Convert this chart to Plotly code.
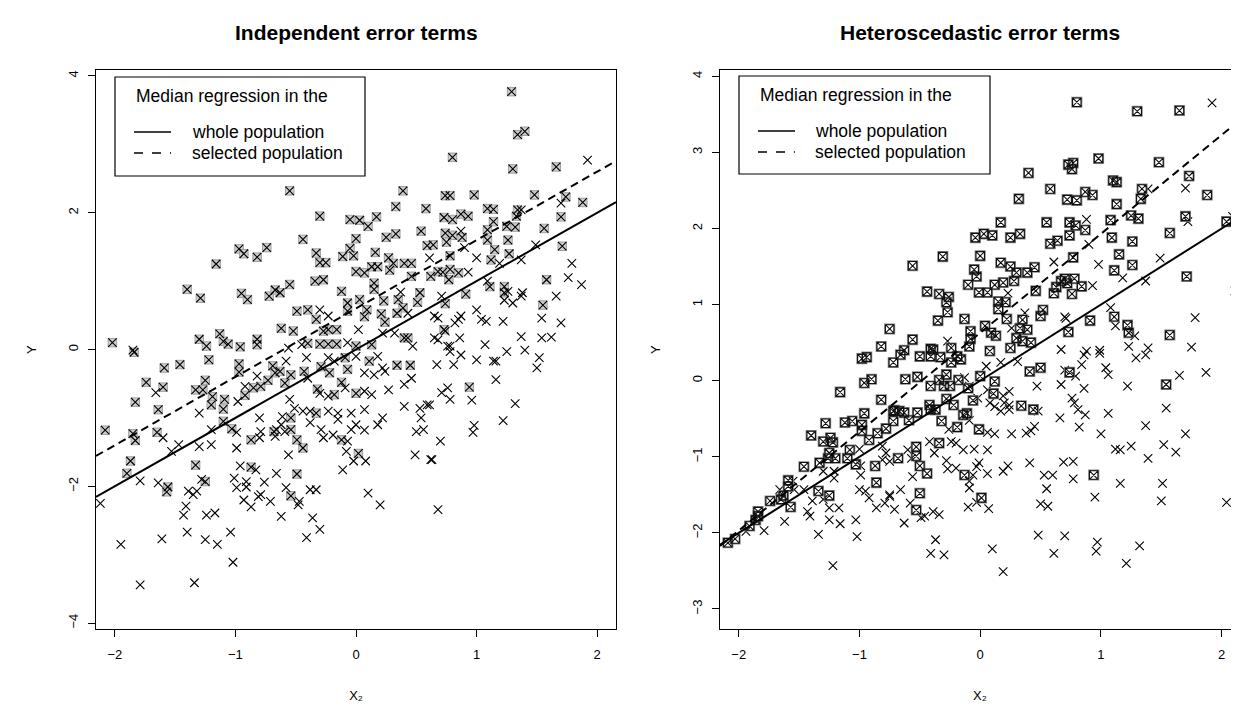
import plotly.graph_objects as go

# ---------------- data ----------------
left_sel_x = [-0.97,-0.93,-0.82,-0.74,-1.16,-1.40,-1.29,-0.95,-0.90,-0.72,-0.67,-2.02,-1.30,-1.24,-1.13,-1.10,-1.06,-0.96,-0.82,-0.82,
    -0.55,0.39,0.33,0.58,-0.30,-0.05,0.03,0.10,0.17,0.25,0.33,0.54,0.0,-0.44,0.59,0.64,-0.05,-0.02,-0.11,-0.33,-0.30,-0.25,0.16,0.27,0.31,0.40,0.46,
    0.0,0.07,0.13,0.18,0.28,-0.34,-0.27,-0.12,0.15,0.15,0.46,0.62,-0.63,-0.55,-0.49,-0.40,-0.33,-0.07,-0.07,0.03,0.09,0.23,0.21,0.35,0.39,0.34,0.51,0.53,
    0.07,0.24,-0.62,-0.52,-0.23,-0.16,-0.27,-0.40,-0.30,-0.23,-0.16,0.40,0.43,0.13,
    1.29,1.34,1.40,0.80,1.30,1.66,0.74,0.78,0.98,1.48,1.74,1.88,1.09,1.14,1.34,0.73,0.80,0.87,0.93,1.14,1.70,1.33,1.25,1.32,1.09,1.56,0.74,0.80,0.88,0.75,
    1.09,1.26,1.15,1.27,1.71,0.78,1.12,0.68,0.72,0.78,0.85,0.77,1.58,1.11,1.23,1.23,0.91,0.74,1.55,0.73,
    -1.84,-1.59,-1.46,-1.22,-1.74,-1.60,-1.33,-1.27,-1.25,-0.97,-0.97,-1.83,-1.64,-1.19,-1.20,-1.09,-1.10,-1.10,-0.92,-0.85,-0.79,-0.73,-0.69,-0.67,
    -1.85,-1.83,-1.65,-1.03,-0.87,-0.68,-1.87,-1.90,-1.33,-0.87,-1.56,-1.57,-1.25,
    -0.63,-0.59,-0.54,-0.43,0.0,-0.09,-0.29,-0.22,-0.07,-0.12,-0.32,-0.18,0.0,0.11,0.34,0.45,-0.33,-0.54,-0.54,-0.49,-0.44,-0.12,0.02,-0.49,-0.54,0.94,
    -2.08]
left_sel_y = [1.47,1.40,1.35,1.49,1.25,0.88,0.75,0.82,0.73,0.78,0.87,0.10,0.15,0.05,0.23,0.12,0.08,0.04,0.15,0.07,
    2.32,2.32,2.09,2.06,1.95,1.90,1.89,1.80,1.94,1.64,1.69,1.73,1.62,1.61,1.52,1.53,1.48,1.37,1.36,1.41,1.27,1.27,1.42,1.34,1.26,1.26,1.26,
    1.14,1.12,1.21,1.21,1.16,1.00,1.02,0.85,0.97,0.88,1.07,1.07,0.83,0.95,0.56,0.58,0.44,0.68,0.56,0.73,0.58,0.71,0.52,0.73,0.61,0.53,0.69,0.83,
    0.48,0.40,0.31,0.27,0.29,0.29,0.27,0.09,0.08,0.08,0.08,0.17,0.17,0.07,
    3.77,3.14,3.19,2.81,2.64,2.67,2.25,2.25,2.26,2.26,2.23,2.15,2.06,2.05,2.04,1.93,1.90,1.98,1.95,1.87,1.94,1.95,1.80,1.79,1.75,1.77,1.70,1.67,1.64,1.57,
    1.60,1.60,1.46,1.40,1.51,1.37,1.31,1.14,1.13,1.17,1.12,1.02,1.02,0.92,0.92,0.83,0.81,0.67,0.65,0.29,
    -0.04,-0.27,-0.22,-0.15,-0.48,-0.55,-0.59,-0.59,-0.45,-0.21,-0.33,-0.77,-0.88,-0.69,-0.81,-0.73,-0.87,-1.05,-0.67,-0.56,-0.54,-0.45,-0.24,-0.34,
    -1.23,-1.33,-1.21,-1.16,-1.32,-1.20,-1.63,-1.81,-1.69,-1.72,-2.01,-2.08,-1.93,
    -0.32,-0.49,-0.37,-0.32,0.05,-0.12,-0.25,-0.34,-0.29,-0.48,-0.58,-0.66,-0.64,-0.17,-0.23,-0.23,-0.93,-1.00,-1.17,-1.32,-1.44,-1.32,-1.52,-1.82,-2.14,-0.55,
    -1.18]

left_uns_x = [-1.85,
    -0.30,-0.23,0.61,0.37,0.43,0.65,0.65,0.22,0.02,-0.07,0.47,0.32,-0.56,-0.45,
    1.92,1.70,1.37,0.87,0.90,1.00,1.49,1.37,1.19,1.79,0.93,1.76,1.87,1.09,1.26,1.38,1.37,1.23,1.30,1.66,0.71,1.00,1.04,1.08,1.22,1.54,1.70,
    0.68,0.85,0.87,0.82,0.74,0.68,0.86,0.78,1.07,1.37,1.54,1.62,1.25,1.40,
    -1.66,-1.30,-1.60,-1.53,-1.47,-1.30,-1.20,-1.20,-0.99,-0.99,-0.82,-0.98,-0.92,-0.80,-0.80,-0.79,-0.66,-1.79,-1.64,-1.39,-1.35,-1.32,-1.28,
    -0.96,-1.01,-0.99,-0.91,-0.91,-0.76,-0.83,-0.93,-0.87,-0.81,-0.79,-0.71,-0.66,-1.41,-1.43,-1.24,-1.17,-1.40,-1.25,-1.15,-1.04,-1.61,-1.95,
    -1.02,-1.79,-1.34,
    -0.58,-0.41,-0.40,-0.23,-0.18,0.0,0.07,0.15,0.18,0.22,0.24,0.27,0.40,0.46,0.07,0.13,-0.30,-0.23,-0.09,-0.55,-0.51,-0.44,-0.38,-0.23,-0.15,
    -0.15,-0.04,0.07,0.22,0.18,0.0,-0.04,0.07,-0.61,-0.62,-0.67,-0.59,-0.38,-0.29,-0.27,-0.19,-0.07,-0.08,-0.02,0.08,-0.11,-0.56,-0.58,-0.47,
    -0.48,-0.38,-0.33,-0.62,-0.36,-0.30,-0.41,0.10,0.20,0.40,0.53,0.59,0.54,0.50,0.56,0.49,0.62,0.68,
    0.76,0.78,0.87,0.67,0.81,1.00,1.14,1.16,1.52,1.50,1.16,0.71,0.76,0.78,0.96,0.61,1.32,0.98,0.97,1.22,0.70,0.63,
    -2.12]
left_uns_y = [-0.01,
    0.58,0.49,1.34,0.84,0.53,0.49,0.17,0.24,0.29,0.10,0.05,0.24,0.02,0.07,
    2.77,2.14,2.04,1.73,1.49,1.34,1.53,1.31,1.26,1.26,1.13,1.05,0.95,1.00,0.85,0.83,0.78,0.72,0.68,0.78,0.78,0.58,0.44,0.41,0.41,0.46,0.39,
    0.46,0.44,0.49,0.39,0.27,0.14,0.17,0.05,0.07,0.19,0.17,0.18,-0.03,-0.01,
    -0.63,-0.93,-1.29,-1.49,-1.39,-1.42,-1.39,-1.17,-1.44,-1.21,-0.39,-0.76,-0.54,-1.29,-1.00,-1.20,-1.17,-1.92,-1.95,-2.07,-2.12,-2.07,-1.90,
    -1.70,-1.88,-2.02,-1.93,-2.01,-1.94,-1.76,-2.20,-2.30,-2.15,-2.12,-2.22,-1.81,-2.29,-2.42,-2.42,-2.39,-2.67,-2.78,-2.85,-2.67,-2.77,-2.85,
    -3.11,-3.44,-3.41,
    -0.17,-0.12,-0.42,-0.12,-0.17,-0.10,-0.34,-0.37,-0.10,-0.27,-0.32,-0.59,-0.51,-0.42,-0.61,-0.66,-0.64,-0.68,-0.56,-0.73,-0.86,-0.90,-0.90,-0.90,-0.93,
    -1.02,-0.93,-0.88,-1.00,-1.10,-1.10,-1.17,-1.18,-0.98,-1.10,-1.27,-1.20,-1.07,-1.17,-1.29,-1.25,-1.34,-1.49,-1.63,-1.63,-1.76,-1.54,-2.02,-2.22,
    -2.27,-2.05,-2.05,-2.44,-2.46,-2.63,-2.75,-2.10,-2.27,-0.83,-0.86,-0.81,-1.00,-1.20,-1.17,-1.54,-1.61,-2.34,
    0.05,-0.03,-0.08,-0.22,-0.22,-0.15,-0.17,-0.17,-0.12,-0.27,-0.44,-0.63,-0.56,-0.73,-0.74,-0.81,-0.79,-1.11,-1.21,-1.04,-1.34,-1.61,
    -2.25]

right_sel_x = [-0.75,-0.82,
    0.40,0.58,0.32,0.17,0.55,-0.04,0.03,0.10,0.25,0.33,0.58,0.64,-0.31,0.0,-0.56,-0.05,-0.03,0.17,0.25,0.30,0.39,0.45,0.28,0.19,0.12,-0.10,-0.01,0.06,
    -0.44,-0.34,-0.28,-0.26,0.15,0.21,0.15,0.46,0.63,0.67,0.61,-0.27,-0.35,-0.13,0.04,0.22,0.35,0.52,0.50,0.33,0.39,-0.08,-0.08,0.09,0.13,0.30,0.35,0.42,
    -0.56,-0.41,-0.24,-0.09,0.08,0.25,-0.63,
    0.80,1.30,1.65,0.73,0.77,0.76,0.98,1.48,1.73,1.10,1.13,0.87,0.93,0.72,0.80,1.34,1.33,1.88,1.13,0.74,0.79,0.87,1.08,1.25,1.31,1.70,2.04,0.74,1.09,
    1.26,1.57,2.14,0.77,1.15,1.11,1.26,0.70,0.78,0.72,0.84,0.76,1.71,0.91,1.11,1.22,1.23,0.73,1.57,2.17,
    -0.98,-0.94,-0.72,-0.96,-0.90,-1.16,-0.82,-0.96,-0.72,-1.28,-1.12,-1.06,-0.98,-0.98,-0.85,-0.78,-1.40,-1.30,-1.24,-1.22,-0.92,-1.25,-1.20,-1.26,
    -1.08,-1.10,-1.03,-0.87,-0.86,-1.46,-1.33,-1.59,-1.59,-1.34,-1.25,-1.74,-1.63,-1.65,-1.57,-1.84,-1.84,-1.86,-1.91,-2.03,-2.09,
    -0.66,-0.50,-0.41,-0.39,-0.33,-0.19,-0.16,-0.24,0.41,0.50,-0.62,-0.52,-0.41,-0.34,-0.28,-0.30,-0.25,-0.18,-0.10,0.0,0.12,0.11,-0.71,-0.67,-0.63,
    -0.52,-0.59,-0.72,-0.42,-0.41,-0.37,-0.28,-0.22,-0.32,-0.19,-0.14,-0.11,-0.06,-0.01,0.34,0.44,-0.34,-0.53,-0.53,-0.68,-0.50,-0.44,-0.13,-0.50,0.01,-0.53,
    0.74,1.54,0.94]
right_sel_y = [0.68,0.45,
    2.73,2.52,2.39,2.08,2.08,1.88,1.93,1.91,1.88,1.93,1.80,1.84,1.63,1.64,1.51,1.46,1.37,1.55,1.50,1.42,1.42,1.49,1.31,1.29,1.26,1.26,1.16,1.16,
    1.17,1.14,1.03,1.10,1.04,1.03,0.94,1.18,1.23,1.31,1.15,0.90,0.79,0.81,0.72,0.81,0.80,0.93,0.85,0.69,0.67,0.65,0.55,0.63,0.59,0.56,0.52,0.50,
    0.54,0.42,0.43,0.45,0.39,0.43,0.40,
    3.66,3.54,3.55,2.84,2.86,2.78,2.92,2.87,2.69,2.63,2.61,2.48,2.44,2.38,2.37,2.52,2.39,2.44,2.32,2.08,2.04,1.98,2.11,2.17,2.13,2.16,2.09,1.91,1.88,
    1.83,1.94,1.81,1.62,1.66,1.45,1.52,1.34,1.34,1.28,1.24,1.14,1.37,0.79,0.84,0.73,0.63,0.64,0.60,3.13,
    0.29,0.31,0.24,-0.03,0.02,-0.15,-0.25,-0.43,-0.40,-0.56,-0.55,-0.53,-0.58,-0.66,-0.69,-0.63,-0.72,-0.80,-0.75,-0.81,-0.78,-0.95,-1.02,-1.02,
    -0.91,-1.02,-1.10,-1.12,-1.34,-1.13,-1.08,-1.31,-1.39,-1.45,-1.51,-1.58,-1.51,-1.56,-1.66,-1.72,-1.78,-1.83,-1.91,-2.08,-2.13,
    0.34,0.32,0.32,0.41,0.31,0.32,0.28,0.24,0.12,0.17,0.02,0.05,-0.07,0.01,0.08,-0.07,-0.07,0.01,-0.10,0.06,-0.01,-0.17,-0.39,-0.40,-0.42,
    -0.42,-0.52,-0.53,-0.32,-0.38,-0.38,-0.24,-0.32,-0.53,-0.61,-0.45,-0.43,-0.26,-0.64,-0.33,-0.38,-0.82,-0.87,-0.99,-1.02,-1.12,-1.22,-1.24,-1.48,-1.54,-1.70,
    0.11,-0.05,-1.24]

right_uns_x = [0.61,0.23,0.37,0.26,-0.27,0.70,0.67,
    1.92,1.39,1.70,0.88,1.72,2.09,0.90,0.98,1.18,1.37,1.49,0.93,2.11,1.08,1.12,1.28,1.78,0.71,1.23,1.39,1.75,0.88,0.99,
    -1.79,-1.94,-1.62,-1.66,-1.54,-1.46,-1.43,-1.41,-1.39,-1.30,-1.25,-1.17,-1.25,-1.16,-1.03,-1.34,-1.02,-1.22,-1.21,-1.21,-1.30,-1.00,-0.99,-1.00,
    -0.95,-0.92,-0.86,-0.79,-0.75,-0.81,-0.78,-0.81,-0.99,-1.55,
    0.05,0.17,0.31,0.47,0.67,0.70,0.24,0.19,0.20,0.24,0.17,0.24,0.12,0.06,0.08,-0.02,-0.13,-0.09,0.06,0.12,0.26,0.38,0.42,0.45,0.48,0.66,-0.09,-0.26,
    -0.42,-0.24,-0.20,-0.14,-0.05,0.06,-0.60,-0.57,-0.75,-0.38,-0.28,-0.27,-0.20,-0.03,-0.01,-0.06,-0.09,-0.09,0.06,0.19,0.23,0.41,0.53,0.60,0.69,0.55,
    0.50,0.56,-0.56,-0.66,-0.75,-0.71,-0.58,-0.63,-0.49,-0.46,-0.39,-0.34,-0.10,-0.03,0.07,-0.37,-0.41,-0.30,0.10,0.19,0.48,0.61,0.70,
    0.86,0.99,1.29,1.37,0.84,1.04,1.06,0.79,1.65,1.87,1.22,0.86,0.76,0.78,0.81,0.87,1.06,1.54,0.82,1.00,1.37,1.70,1.12,1.16,1.25,1.39,1.52,1.62,
    0.77,0.77,1.16,1.51,0.95,1.50,2.04,0.97,0.96,1.32,1.21]
right_uns_y = [1.56,1.15,0.89,0.69,0.52,0.84,0.41,
    3.65,2.52,2.53,2.12,2.09,2.16,1.79,1.53,1.35,1.31,1.61,1.25,1.18,0.96,0.72,0.59,0.83,0.82,0.45,0.43,0.44,0.39,0.40,
    -1.97,-1.98,-1.85,-1.43,-1.43,-1.43,-1.72,-1.78,-1.58,-1.56,-1.67,-1.67,-1.83,-1.88,-1.83,-2.02,-2.05,-2.43,-1.19,-1.28,-1.19,-0.90,-1.24,-1.43,
    -1.45,-1.54,-1.67,-1.61,-1.50,-1.04,-0.95,-0.86,-1.12,-1.32,
    0.19,0.24,0.25,-0.07,-0.05,0.14,-0.14,-0.20,-0.29,-0.32,-0.40,-0.38,-0.34,-0.12,-0.29,-0.23,0.04,-0.07,-0.68,-0.70,-0.70,-0.69,-0.66,-0.60,-0.40,-0.49,-0.52,-0.64,
    -0.80,-0.80,-0.82,-0.91,-0.90,-0.91,-0.91,-1.02,-1.06,-0.95,-1.05,-1.16,-1.15,-1.13,-1.08,-1.24,-1.32,-1.41,-1.22,-1.19,-1.12,-1.08,-1.24,-1.24,-1.07,-1.42,
    -1.62,-1.65,-1.26,-1.43,-1.52,-1.69,-1.61,-1.87,-1.80,-1.78,-1.72,-1.76,-1.66,-1.60,-1.68,-2.09,-2.27,-2.29,-2.21,-2.51,-2.03,-2.27,-2.04,
    0.34,0.36,0.30,0.34,0.21,0.17,0.08,0.06,0.07,0.11,-0.07,-0.10,-0.23,-0.29,-0.38,-0.45,-0.43,-0.36,-0.61,-0.70,-0.59,-0.70,-0.90,-0.91,-0.86,-1.02,-0.84,-0.94,
    -1.06,-1.29,-1.35,-1.35,-1.53,-1.58,-1.60,-2.12,-2.24,-2.17,-2.40]

# median regression lines: (intercept, slope)
left_whole = (0.0, 1.0)
left_selected = (0.60, 1.0)
right_whole = (0.0, 1.0)
right_selected = (0.63, 1.30)

x_ticks = [-2, -1, 0, 1, 2]
left_y_ticks = [-4, -2, 0, 2, 4]
right_y_ticks = [-3, -2, -1, 0, 1, 2, 3, 4]

titles = ["Independent error terms", "Heteroscedastic error terms"]
legend_lines = ["Median regression in the", "whole population", "selected population"]
x_title = "X\u2082"
y_title = "Y"

# ---------------- layout geometry ----------------
W, H = 1239, 708
def pxx(v): return v / W
def pxy(v): return 1 - v / H

L_X0, L_X1 = 88, 608
R_X0, R_X1 = 712, 1231.7
Y_TOP, Y_BOT = 62.3, 621
x_range_l = [-2.156, 2.156]
x_range_r = [-2.155, 2.149]
y_range_l = [-4.086, 4.082]
y_range_r = [-3.263, 4.079]

FONT = "Liberation Sans, Arial, DejaVu Sans, sans-serif"
fig = go.Figure()

xmark = dict(symbol="x-thin", size=8.5, line=dict(color="black", width=1.1), color="black")

# left panel
fig.add_trace(go.Scatter(x=left_sel_x, y=left_sel_y, mode="markers", xaxis="x", yaxis="y",
    marker=dict(symbol="square", size=8.5, color="#cdcdcd", line=dict(color="#a0a0a0", width=1))))
fig.add_trace(go.Scatter(x=left_uns_x + left_sel_x, y=left_uns_y + left_sel_y, mode="markers",
    xaxis="x", yaxis="y", marker=xmark))

# right panel
fig.add_trace(go.Scatter(x=right_uns_x, y=right_uns_y, mode="markers", xaxis="x2", yaxis="y2", marker=xmark))
fig.add_trace(go.Scatter(x=right_sel_x, y=right_sel_y, mode="markers", xaxis="x2", yaxis="y2",
    marker=dict(symbol="square-open", size=9.5, color="#8a8a8a", line=dict(color="#8a8a8a", width=1.6))))
fig.add_trace(go.Scatter(x=right_sel_x, y=right_sel_y, mode="markers", xaxis="x2", yaxis="y2",
    marker=dict(symbol="square-x-open", size=8.5, color="#111111", line=dict(color="#111111", width=1.1))))

def add_line(coef, xr, xa, ya, dash):
    a, b = coef
    xs = [xr[0], xr[1]]
    fig.add_trace(go.Scatter(x=xs, y=[a + b * v for v in xs], mode="lines", xaxis=xa, yaxis=ya,
        line=dict(color="black", width=2, dash=dash)))

add_line(left_whole, x_range_l, "x", "y", "solid")
add_line(left_selected, x_range_l, "x", "y", "8px,5px")
add_line(right_whole, x_range_r, "x2", "y2", "solid")
add_line(right_selected, x_range_r, "x2", "y2", "8px,5px")

axis_common = dict(showline=True, mirror=True, linecolor="black", linewidth=1.3, ticks="outside",
    ticklen=7, tickwidth=1.3, tickcolor="black", showgrid=False, zeroline=False,
    tickfont=dict(family=FONT, size=13, color="black"))
xt = dict(text=x_title, font=dict(family=FONT, size=13, color="black"), standoff=30)
yt = dict(text=y_title, font=dict(family=FONT, size=13, color="black"), standoff=26)

fig.update_layout(
    width=W, height=H, margin=dict(l=0, r=0, t=0, b=0),
    paper_bgcolor="white", plot_bgcolor="white", showlegend=False,
    xaxis=dict(domain=[pxx(L_X0), pxx(L_X1)], range=x_range_l, tickvals=x_ticks, anchor="y",
               ticklabelstandoff=6, title=xt, **axis_common),
    yaxis=dict(domain=[pxy(Y_BOT), pxy(Y_TOP)], range=y_range_l, tickvals=left_y_ticks, tickangle=-90, anchor="x",
               ticklabelstandoff=5, title=yt, **axis_common),
    xaxis2=dict(domain=[pxx(R_X0), pxx(R_X1)], range=x_range_r, tickvals=x_ticks, anchor="y2",
                ticklabelstandoff=6, title=xt, **axis_common),
    yaxis2=dict(domain=[pxy(Y_BOT), pxy(Y_TOP)], range=y_range_r, tickvals=right_y_ticks, tickangle=-90, anchor="x2",
                ticklabelstandoff=5, title=yt, **axis_common),
)

ann = []
shapes = []
for i, (x0, x1) in enumerate([(L_X0, L_X1), (R_X0, R_X1)]):
    cx = (x0 + x1) / 2
    ann.append(dict(text="<b>%s</b>" % titles[i], x=pxx(cx), y=pxy(25), xref="paper", yref="paper",
        showarrow=False, font=dict(family=FONT, size=21, color="black"), xanchor="center", yanchor="middle"))

LEG_FS = 17.5
legend_geo = [dict(bx0=107, bx1=357, by0=69, by1=168, tx=126, lx0=126, lx1=163, lt=182),
              dict(bx0=731, bx1=982, by0=68, by1=166, tx=750, lx0=750, lx1=787, lt=805)]
for g in legend_geo:
    shapes.append(dict(type="rect", xref="paper", yref="paper", x0=pxx(g["bx0"]), x1=pxx(g["bx1"]),
        y0=pxy(g["by1"]), y1=pxy(g["by0"]), line=dict(color="black", width=1.2), fillcolor="white", layer="above"))
    ann.append(dict(text=legend_lines[0], x=pxx(g["tx"]), y=pxy(g["by0"] + 19), xref="paper", yref="paper",
        showarrow=False, font=dict(family=FONT, size=LEG_FS, color="black"), xanchor="left", yanchor="middle"))
    for k, (yy, dsh) in enumerate([(g["by0"] + 55, "solid"), (g["by0"] + 76, "dash")]):
        shapes.append(dict(type="line", xref="paper", yref="paper", x0=pxx(g["lx0"]), x1=pxx(g["lx1"]),
            y0=pxy(yy), y1=pxy(yy), line=dict(color="black", width=1.5, dash=dsh), layer="above"))
        ann.append(dict(text=legend_lines[k + 1], x=pxx(g["lt"]), y=pxy(yy), xref="paper", yref="paper",
            showarrow=False, font=dict(family=FONT, size=LEG_FS, color="black"), xanchor="left", yanchor="middle"))

fig.update_layout(annotations=ann, shapes=shapes)
fig.write_html("out.html")
